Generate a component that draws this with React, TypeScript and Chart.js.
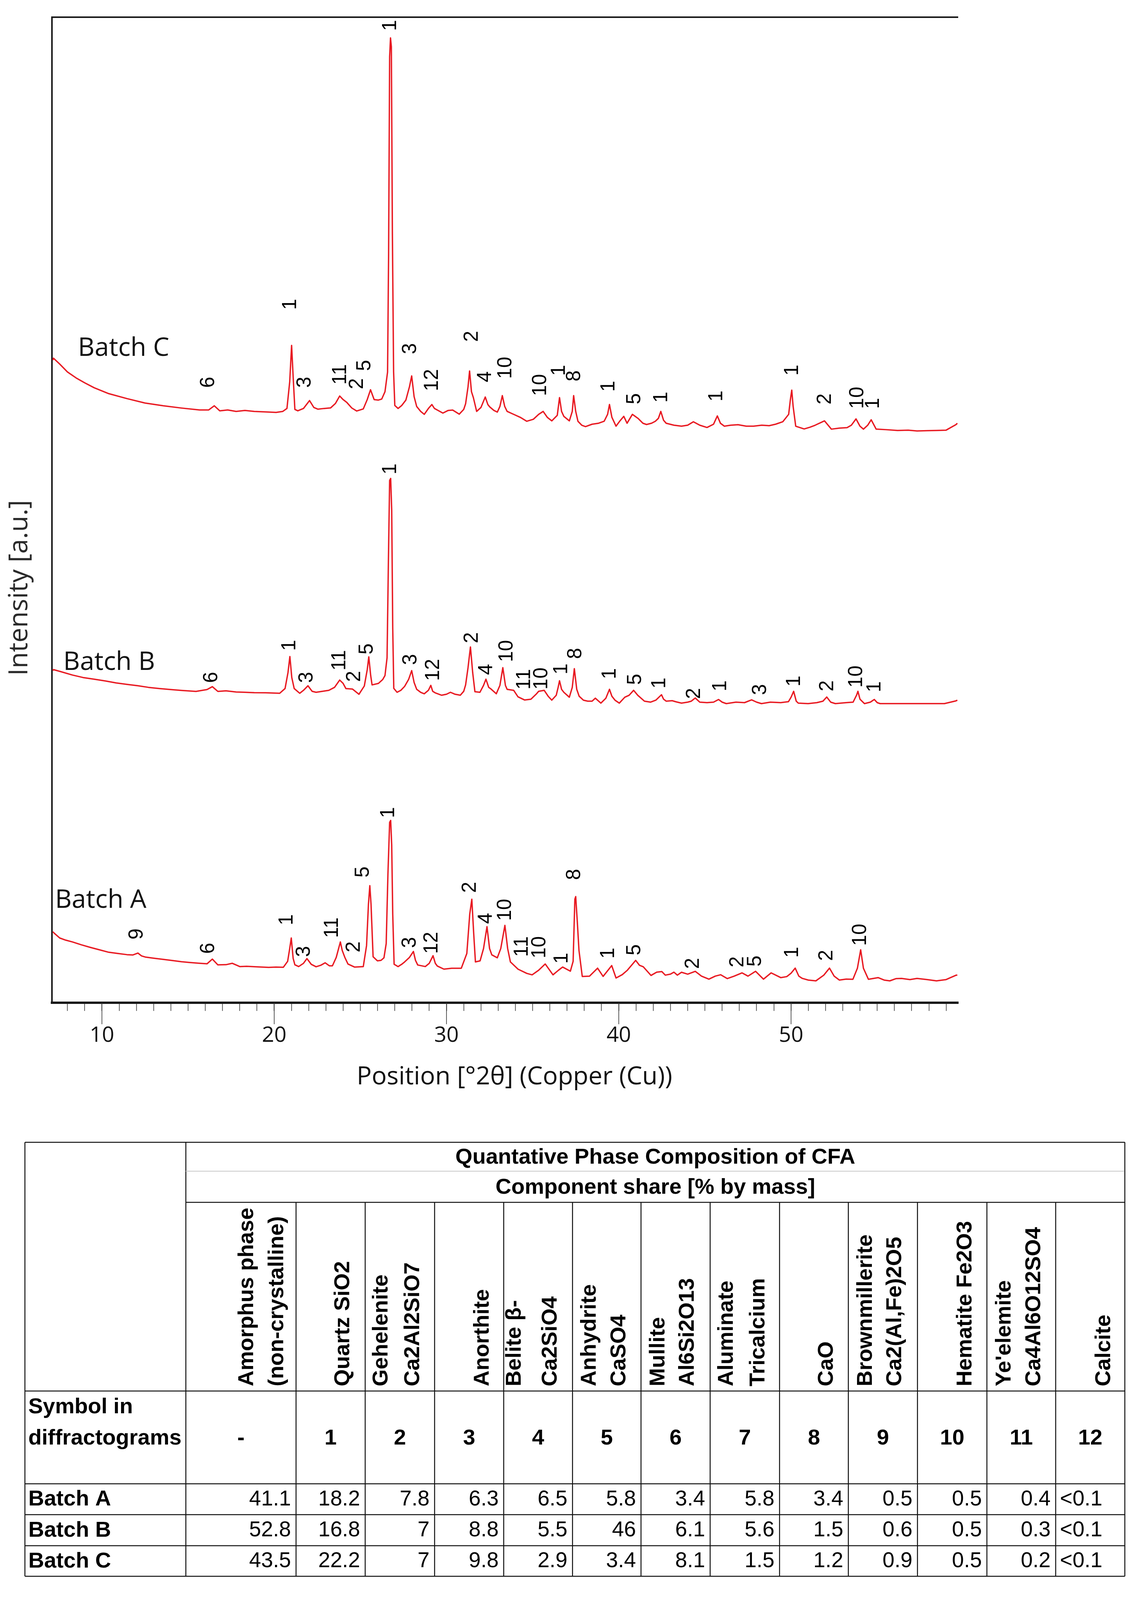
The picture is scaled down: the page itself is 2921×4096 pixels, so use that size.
import React, { useEffect, useRef } from "react";
import { Chart, registerables } from "chart.js";

Chart.register(...registerables);

// ---------------- Diffractogram data: [2θ (°), stacked intensity (a.u.)] ----------------
const batchC: number[][] = [
  [7.15, 652], [7.19, 654], [7.55, 648], [8.0, 640], [8.5, 634], [9.0, 629], [9.55, 624], [10.4, 618],
  [11.45, 613], [12.5, 608.5], [13.56, 605.7], [14.62, 603.4], [15.67, 601.5], [16.2, 601.5], [16.52, 605.7],
  [16.84, 600.6], [17.3, 601.5], [17.79, 600], [18.3, 601], [18.84, 600], [19.5, 599.5], [20.11, 599],
  [20.5, 600], [20.74, 603], [20.9, 630], [21.01, 667], [21.1, 635], [21.2, 602], [21.37, 600.6], [21.7, 603],
  [22.05, 611], [22.3, 604], [22.53, 602.3], [22.9, 603], [23.27, 603.5], [23.55, 608], [23.8, 615.6],
  [24.0, 612], [24.22, 609], [24.5, 603.5], [24.79, 600.4], [25.17, 602.5], [25.4, 612], [25.59, 622],
  [25.8, 612], [26.05, 611.5], [26.24, 612.5], [26.43, 620], [26.58, 640], [26.64, 760], [26.7, 960],
  [26.75, 979], [26.8, 970], [26.86, 780], [26.93, 640], [27.0, 606], [27.19, 603], [27.4, 606], [27.64, 611.4],
  [27.85, 625], [27.98, 636], [28.12, 615], [28.27, 605], [28.5, 600], [28.71, 597], [28.95, 603], [29.15, 607],
  [29.3, 603], [29.47, 601.4], [29.79, 598.3], [30.1, 601], [30.36, 601.4], [30.74, 597.2], [31.0, 602],
  [31.11, 607.8], [31.25, 625], [31.34, 641], [31.45, 620], [31.56, 614], [31.75, 600], [32.0, 604],
  [32.25, 614.6], [32.4, 607], [32.51, 604.6], [32.75, 601], [32.95, 599.3], [33.1, 605], [33.24, 616],
  [33.38, 605], [33.52, 600], [33.9, 597], [34.28, 594], [34.66, 590], [35.04, 592], [35.35, 597], [35.61, 600],
  [35.85, 594], [36.11, 590.4], [36.43, 596], [36.56, 614], [36.68, 600], [36.81, 595], [37.13, 590.4],
  [37.3, 600], [37.38, 616], [37.5, 600], [37.63, 590], [37.85, 586], [38.07, 584.6], [38.45, 587], [38.83, 588],
  [39.15, 590], [39.35, 597], [39.46, 607], [39.6, 594], [39.84, 585], [40.05, 590], [40.29, 595], [40.48, 588],
  [40.79, 597], [41.11, 593], [41.4, 588], [41.61, 586.7], [41.9, 588], [42.12, 590], [42.3, 593], [42.44, 600],
  [42.6, 591], [42.75, 588], [43.2, 586], [43.64, 585], [44.0, 586], [44.33, 589.5], [44.7, 586], [45.12, 583.7],
  [45.5, 587], [45.72, 595.4], [45.9, 588], [46.13, 585], [46.5, 586], [46.92, 586.5], [47.4, 585], [47.82, 585],
  [48.3, 586], [48.73, 585.5], [49.1, 587], [49.52, 589.5], [49.86, 597], [49.96, 612], [50.04, 621.6],
  [50.12, 605], [50.27, 585], [50.76, 582.2], [51.1, 584], [51.4, 586], [51.94, 590.4], [52.34, 582], [52.8, 583],
  [53.25, 583.5], [53.5, 586], [53.77, 592.4], [54.0, 585], [54.2, 582], [54.45, 586], [54.65, 591.5],
  [54.94, 582], [55.5, 581.5], [56.18, 580.7], [56.8, 581], [57.31, 580.2], [57.9, 580.5], [58.44, 580.7],
  [59.0, 581], [59.57, 586.6], [59.65, 588],
];

const batchB: number[][] = [
  [7.15, 337], [7.19, 338], [7.6, 336], [8.29, 332.5], [8.9, 330], [9.55, 328.3], [10.2, 326.5], [10.82, 324.5],
  [11.45, 323], [12.09, 321.6], [12.7, 320], [13.35, 318.8], [14.0, 317.8], [14.62, 316.9], [15.46, 315.9],
  [16.1, 317.8], [16.41, 320.7], [16.73, 315.9], [17.2, 316.5], [17.79, 315.3], [18.3, 315], [18.84, 314.6],
  [19.5, 314.5], [20.32, 314], [20.63, 318.8], [20.8, 335], [20.91, 351.3], [21.02, 330], [21.16, 318.8],
  [21.48, 314], [21.7, 317], [21.96, 321.6], [22.2, 316], [22.43, 315], [22.8, 316], [23.17, 317], [23.5, 320],
  [23.8, 327.4], [24.0, 324], [24.16, 318.8], [24.54, 318.3], [24.92, 313], [25.23, 321.4], [25.4, 338],
  [25.49, 351], [25.6, 332], [25.68, 322.5], [26.05, 324], [26.3, 328], [26.43, 332], [26.55, 350], [26.63, 450],
  [26.7, 530], [26.76, 532], [26.82, 500], [26.88, 380], [26.94, 319], [27.13, 315], [27.35, 317], [27.57, 321],
  [27.8, 328], [27.98, 337], [28.12, 325], [28.27, 318], [28.5, 315], [28.71, 313.5], [28.95, 317], [29.09, 322],
  [29.2, 316], [29.34, 314.5], [29.72, 312], [30.0, 313], [30.23, 315], [30.5, 313], [30.8, 312], [31.0, 316],
  [31.11, 322.5], [31.25, 340], [31.39, 361], [31.52, 335], [31.65, 315.6], [31.94, 315], [32.15, 322],
  [32.29, 328.3], [32.45, 320], [32.57, 318.5], [32.89, 313.5], [33.1, 322], [33.27, 340], [33.42, 322],
  [33.52, 318], [33.9, 317], [34.15, 310.4], [34.53, 307.2], [34.9, 308], [35.2, 313], [35.35, 316], [35.67, 317],
  [35.9, 311], [36.11, 307], [36.37, 312], [36.48, 320], [36.56, 326.7], [36.68, 318], [36.81, 315], [37.13, 310],
  [37.3, 320], [37.42, 339], [37.56, 318], [37.7, 311], [37.95, 307], [38.2, 306], [38.45, 306], [38.64, 309],
  [38.96, 304], [39.25, 309], [39.46, 318], [39.6, 311], [39.78, 307], [40.03, 304], [40.35, 310], [40.6, 312],
  [40.86, 317], [41.1, 312], [41.49, 306], [41.85, 305], [42.15, 307], [42.48, 312.5], [42.6, 308], [42.75, 306],
  [43.1, 306.5], [43.31, 305.4], [43.64, 304], [44.0, 305], [44.21, 306], [44.44, 309.2], [44.7, 305],
  [45.12, 304.5], [45.5, 305], [45.79, 307.7], [46.0, 305], [46.24, 303.5], [46.8, 305], [47.3, 304.5],
  [47.71, 307.3], [48.0, 305], [48.28, 303.5], [48.8, 305], [49.4, 304.5], [49.85, 305.5], [50.0, 310],
  [50.15, 316], [50.3, 306], [50.42, 304], [50.99, 303.5], [51.5, 304.5], [51.85, 306], [52.07, 310.2],
  [52.3, 305], [52.57, 303.5], [53.2, 304.5], [53.6, 305], [53.8, 312], [53.88, 316], [54.0, 308], [54.26, 303.5],
  [54.6, 305], [54.83, 307.7], [55.0, 304.5], [55.17, 303.5], [56.0, 303.5], [57.0, 303.5], [58.0, 303.5],
  [58.9, 303.5], [59.57, 306.3], [59.65, 307],
];

const batchA: number[][] = [
  [7.15, 72], [7.23, 70.6], [7.55, 65.7], [7.9, 63.5], [8.29, 61.7], [8.8, 58.8], [9.34, 56.1], [9.9, 53.5],
  [10.4, 51.2], [10.9, 50], [11.45, 48.8], [11.8, 48.5], [12.09, 50.4], [12.3, 47.5], [12.51, 46.4], [13.0, 45.2],
  [13.56, 44.0], [14.1, 42.8], [14.62, 41.6], [15.1, 40.8], [15.67, 40.0], [16.1, 39.5], [16.41, 44.3],
  [16.73, 38.4], [17.2, 38.6], [17.57, 40.0], [18.0, 36.7], [18.4, 37], [18.84, 36.6], [19.3, 36.2], [19.68, 35.9],
  [20.1, 36.2], [20.53, 36], [20.78, 42], [20.9, 55], [20.99, 65.7], [21.1, 45], [21.2, 38.5], [21.42, 36.7],
  [21.7, 40], [21.9, 44.8], [22.15, 39], [22.43, 36.5], [22.7, 38], [22.96, 40.5], [23.2, 37.5], [23.38, 37.5],
  [23.6, 46], [23.84, 61.7], [23.95, 53], [24.1, 46], [24.28, 39.3], [24.66, 36.2], [25.17, 36.7], [25.36, 58],
  [25.47, 100], [25.55, 118.8], [25.62, 100], [25.74, 46.7], [25.99, 42.5], [26.2, 43], [26.37, 45.6], [26.5, 60],
  [26.6, 130], [26.7, 183], [26.76, 185], [26.82, 160], [26.88, 90], [26.96, 39], [27.19, 36.7], [27.4, 39],
  [27.57, 41.4], [27.85, 46], [28.08, 52], [28.2, 43], [28.33, 38.3], [28.77, 36.7], [29.0, 40], [29.22, 47.7],
  [29.35, 40], [29.47, 37.2], [29.85, 34.1], [30.3, 35], [30.86, 35], [31.18, 50], [31.35, 90], [31.47, 105],
  [31.58, 70], [31.68, 41.4], [31.95, 42.5], [32.15, 55], [32.35, 77.2], [32.5, 55], [32.63, 48.6], [32.95, 45.6],
  [33.15, 55], [33.39, 78.5], [33.55, 55], [33.71, 41.4], [34.15, 34.1], [34.66, 29.8], [34.97, 28.3], [35.35, 33],
  [35.73, 39.3], [36.18, 28.3], [36.5, 33], [36.74, 36.2], [37.19, 32], [37.35, 42], [37.45, 105], [37.5, 107.7],
  [37.6, 80], [37.69, 53], [37.88, 26.7], [38.3, 27], [38.77, 35.1], [39.09, 26.7], [39.59, 37.7], [39.84, 25.1],
  [40.2, 28.5], [40.5, 33], [40.98, 43], [41.2, 38], [41.42, 36.5], [41.87, 27.7], [42.2, 31], [42.5, 31.6],
  [42.7, 28], [43.0, 29], [43.2, 31], [43.4, 28], [43.64, 30.9], [44.0, 29], [44.44, 31.9], [44.8, 27],
  [45.23, 23.9], [45.6, 27], [45.91, 28.4], [46.3, 24.5], [46.7, 27], [47.15, 30.3], [47.5, 27], [47.94, 31.9],
  [48.4, 23.9], [48.84, 30.3], [49.4, 25.5], [49.75, 26.5], [50.0, 30], [50.24, 35.1], [50.45, 27], [50.65, 24.7],
  [51.0, 23], [51.44, 22.2], [51.9, 28], [52.23, 35.1], [52.5, 27], [52.8, 23], [53.2, 24], [53.59, 23.8],
  [53.85, 35], [54.04, 53.7], [54.2, 35], [54.49, 23.8], [55.05, 25.5], [55.4, 23], [55.73, 22.2], [56.1, 24.5],
  [56.41, 24.7], [56.9, 23.5], [57.31, 24.7], [57.9, 23.5], [58.44, 22.2], [59.0, 23.5], [59.57, 27.9], [59.65, 28],
];

// Curve names and their anchor (2θ, intensity) for the label
const curveNames = ["Batch A", "Batch B", "Batch C"];
const curveNameAnchors: number[][] = [[7.28, 96.3], [7.76, 337.7], [8.61, 656.4]];

// Peak symbol labels: [symbol, 2θ, intensity at label start]
const peaksA: [string, number, number][] = [
  ["9", 12.04, 64.1], ["6", 16.2, 49.6], ["1", 20.74, 78.6], ["3", 21.75, 46.4], ["11", 23.38, 65.7],
  ["2", 24.65, 51], ["5", 25.17, 127], ["1", 26.65, 187.4], ["3", 27.88, 55.5], ["12", 29.17, 49.5],
  ["2", 31.38, 111.5], ["4", 32.3, 80], ["10", 33.41, 83], ["11", 34.4, 46.5], ["10", 35.42, 45],
  ["1", 36.72, 39.5], ["8", 37.44, 124.6], ["1", 39.41, 44.7], ["5", 40.93, 48.1], ["2", 44.32, 34.3],
  ["2", 46.92, 35.9], ["5", 47.94, 36.7], ["1", 50.08, 45.6], ["2", 52.07, 42.4], ["10", 54.04, 57.7],
];
const peaksB: [string, number, number][] = [
  ["6", 16.37, 324.5], ["1", 20.91, 357], ["3", 21.9, 324.5], ["11", 23.8, 337], ["2", 24.66, 325.5],
  ["5", 25.4, 353.3], ["1", 26.76, 536], ["3", 27.93, 342.6], ["12", 29.25, 326.5], ["2", 31.5, 364.7],
  ["4", 32.33, 332.5], ["10", 33.52, 345.6], ["11", 34.53, 317.7], ["10", 35.54, 317.7], ["1", 36.68, 333],
  ["8", 37.5, 348.8], ["1", 39.49, 328.3], ["5", 40.98, 322.5], ["1", 42.38, 318.8], ["2", 44.39, 308.2],
  ["1", 45.91, 315.9], ["3", 48.23, 312.1], ["1", 50.2, 320.7], ["2", 52.12, 315.9], ["10", 53.81, 319.7],
  ["1", 54.87, 315],
];
const peaksC: [string, number, number][] = [
  ["6", 16.2, 624], ["1", 20.95, 703], ["3", 21.8, 624], ["11", 23.86, 627], ["2", 24.82, 622.5],
  ["5", 25.27, 641], ["1", 26.76, 986], ["3", 27.92, 658], ["12", 29.19, 620.5], ["2", 31.5, 670.5],
  ["4", 32.27, 629.5], ["10", 33.44, 633], ["10", 35.47, 615.5], ["1", 36.55, 636], ["8", 37.44, 630.4],
  ["1", 39.42, 619.9], ["5", 40.92, 607.2], ["1", 42.48, 608.8], ["1", 45.68, 610], ["1", 50.08, 636.2],
  ["2", 52.0, 607], ["10", 53.88, 602.6], ["1", 54.78, 602.6],
];

const xMin = 7.1;
const xMax = 59.7;
const xTitle = "Position [°2θ] (Copper (Cu))";
const yTitle = "Intensity [a.u.]";

// ---------------- Table data ----------------
const tableTitle = "Quantative Phase Composition of CFA";
const tableSubtitle = "Component share [% by mass]";
const phaseHeaders: string[][] = [
  ["Amorphus phase", "(non-crystalline)"], ["Quartz SiO2"], ["Gehelenite", "Ca2Al2SiO7"], ["Anorthite"],
  ["Belite β-", "Ca2SiO4"], ["Anhydrite", "CaSO4"], ["Mullite", "Al6Si2O13"], ["Aluminate", "Tricalcium"],
  ["CaO"], ["Brownmillerite", "Ca2(Al,Fe)2O5"], ["Hematite Fe2O3"], ["Ye'elemite", "Ca4Al6O12SO4"], ["Calcite"],
];
const symbolRowLabel = ["Symbol in", "diffractograms"];
const phaseSymbols = ["-", "1", "2", "3", "4", "5", "6", "7", "8", "9", "10", "11", "12"];
const tableRowNames = ["Batch A", "Batch B", "Batch C"];
const sharesA = ["41.1", "18.2", "7.8", "6.3", "6.5", "5.8", "3.4", "5.8", "3.4", "0.5", "0.5", "0.4", "<0.1"];
const sharesB = ["52.8", "16.8", "7", "8.8", "5.5", "46", "6.1", "5.6", "1.5", "0.6", "0.5", "0.3", "<0.1"];
const sharesC = ["43.5", "22.2", "7", "9.8", "2.9", "3.4", "8.1", "1.5", "1.2", "0.9", "0.5", "0.2", "<0.1"];

// ---------------- Layout (pixels) ----------------
const W = 2921;
const H = 4096;
const PLOT = { left: 133, top: 44, right: 2453, bottom: 2567 };
const X_SCALE_H = 120;
const colEdges = [63.8, 475.8, 757.9, 934.9, 1112.6, 1289.5, 1465.7, 1641.0, 1818.0, 1995.7, 2171.8, 2348.8, 2526.5, 2702.6, 2879.6];
const rowEdges = [2924.2, 2998.3, 3078.0, 3561.0, 3798.5, 3877.4, 3957.1, 4035.2];
const headerLineX: number[][] = [
  [633, 710], [879], [977, 1057.6], [1236], [1318, 1410], [1510, 1586], [1686, 1761], [1861, 1941.5],
  [2117], [2216.5, 2292], [2472], [2572, 2648], [2827],
];

const RED = "rgb(232, 26, 34)";
const INK = "#111";
const SANS = '"Open Sans", "Noto Sans", sans-serif';
const ARIAL = '"Liberation Sans", Arial, sans-serif';

const isMajor = (v: number) => Math.abs(v - Math.round(v / 10) * 10) < 1e-6;

function drawRot(ctx: CanvasRenderingContext2D, text: string, x: number, y: number, align: CanvasTextAlign, baseline: CanvasTextBaseline) {
  ctx.save();
  ctx.translate(x, y);
  ctx.rotate(-Math.PI / 2);
  ctx.textAlign = align;
  ctx.textBaseline = baseline;
  ctx.fillText(text, 0, 0);
  ctx.restore();
}

function hLine(ctx: CanvasRenderingContext2D, x1: number, x2: number, y: number) {
  ctx.beginPath();
  ctx.moveTo(x1, y);
  ctx.lineTo(x2, y);
  ctx.stroke();
}
function vLine(ctx: CanvasRenderingContext2D, x: number, y1: number, y2: number) {
  ctx.beginPath();
  ctx.moveTo(x, y1);
  ctx.lineTo(x, y2);
  ctx.stroke();
}

const decorPlugin = {
  id: "decor",
  afterDraw(chart: any) {
    const { ctx, chartArea: ca, scales } = chart;
    const xs = scales.x;
    const ys = scales.y;
    ctx.save();

    // top frame line
    ctx.strokeStyle = "#1a1a1a";
    ctx.lineWidth = 4;
    hLine(ctx, ca.left - 2, ca.right, ca.top);

    // long major tick marks
    ctx.strokeStyle = "#333";
    ctx.lineWidth = 1.6;
    for (const t of xs.ticks) {
      if (isMajor(t.value)) {
        const px = xs.getPixelForValue(t.value);
        vLine(ctx, px, ca.bottom, ca.bottom + 55);
      }
    }

    // axis titles
    ctx.fillStyle = INK;
    ctx.font = `64px ${SANS}`;
    ctx.textAlign = "center";
    ctx.textBaseline = "alphabetic";
    ctx.fillText(xTitle, 1317, 2776);
    ctx.fillStyle = "#2a2a2a";
    ctx.font = `68px ${SANS}`;
    drawRot(ctx, yTitle, 70, 1505, "center", "alphabetic");

    // curve names
    ctx.fillStyle = INK;
    ctx.font = `66px ${SANS}`;
    curveNames.forEach((name, i) => {
      const [vx, vy] = curveNameAnchors[i];
      ctx.textAlign = "left";
      ctx.textBaseline = "alphabetic";
      ctx.fillText(name, xs.getPixelForValue(vx), ys.getPixelForValue(vy));
    });

    // peak symbols
    ctx.fillStyle = "#000";
    ctx.font = `51px ${ARIAL}`;
    for (const list of [peaksA, peaksB, peaksC]) {
      for (const [s, vx, vy] of list) {
        drawRot(ctx, s, xs.getPixelForValue(vx), ys.getPixelForValue(vy), "left", "middle");
      }
    }

    // ---------------- table ----------------
    const L = colEdges[0];
    const C1 = colEdges[1];
    const R = colEdges[colEdges.length - 1];
    ctx.strokeStyle = "#111";
    ctx.lineWidth = 2.5;
    hLine(ctx, L, R, rowEdges[0]);
    hLine(ctx, C1, R, rowEdges[2]);
    for (let r = 3; r < rowEdges.length; r++) hLine(ctx, L, R, rowEdges[r]);
    vLine(ctx, L, rowEdges[0], rowEdges[7]);
    vLine(ctx, C1, rowEdges[0], rowEdges[7]);
    vLine(ctx, R, rowEdges[0], rowEdges[7]);
    for (let c = 2; c < colEdges.length - 1; c++) vLine(ctx, colEdges[c], rowEdges[2], rowEdges[7]);
    ctx.strokeStyle = "#c8c8c8";
    ctx.lineWidth = 2;
    hLine(ctx, C1, R - 1.5, rowEdges[1]);

    ctx.fillStyle = "#000";
    ctx.font = `bold 56px ${ARIAL}`;
    ctx.textAlign = "center";
    ctx.textBaseline = "middle";
    ctx.fillText(tableTitle, (C1 + R) / 2, (rowEdges[0] + rowEdges[1]) / 2 + 2);
    ctx.fillText(tableSubtitle, (C1 + R) / 2, (rowEdges[1] + rowEdges[2]) / 2 + 2);

    // rotated phase headers
    phaseHeaders.forEach((lines, j) => {
      lines.forEach((ln, k) => {
        drawRot(ctx, ln, headerLineX[j][k], rowEdges[3] - 12, "left", "middle");
      });
    });

    // symbol row
    ctx.textAlign = "left";
    ctx.textBaseline = "middle";
    ctx.fillText(symbolRowLabel[0], 72.5, 3602.5);
    ctx.fillText(symbolRowLabel[1], 72.5, 3683);
    ctx.textAlign = "center";
    phaseSymbols.forEach((s, j) => {
      ctx.fillText(s, (colEdges[j + 1] + colEdges[j + 2]) / 2, 3683);
    });

    // data rows
    [sharesA, sharesB, sharesC].forEach((vals, i) => {
      const cy = (rowEdges[4 + i] + rowEdges[5 + i]) / 2 + 1;
      ctx.font = `bold 56px ${ARIAL}`;
      ctx.textAlign = "left";
      ctx.fillText(tableRowNames[i], 72.5, cy);
      ctx.font = `55px ${ARIAL}`;
      vals.forEach((v, j) => {
        const left = colEdges[j + 1];
        const right = colEdges[j + 2];
        if (v.startsWith("<")) {
          ctx.textAlign = "left";
          ctx.fillText(v, left + 11, cy);
        } else {
          ctx.textAlign = "right";
          ctx.fillText(v, right - 13, cy);
        }
      });
    });

    ctx.restore();
  },
};

export default function App() {
  const canvasRef = useRef<HTMLCanvasElement | null>(null);

  useEffect(() => {
    const canvas = canvasRef.current;
    if (!canvas) return;
    const toXY = (arr: number[][]) => arr.map(([x, y]) => ({ x, y }));
    const ds = (data: number[][]) => ({
      data: toXY(data),
      borderColor: RED,
      borderWidth: 3.5,
      pointRadius: 0,
      tension: 0,
      fill: false,
      borderJoinStyle: "round" as const,
    });

    const chart = new Chart(canvas, {
      type: "line",
      data: { datasets: [ds(batchA), ds(batchB), ds(batchC)] },
      options: {
        responsive: false,
        devicePixelRatio: 1,
        animation: false,
        events: [],
        layout: {
          padding: {
            left: PLOT.left,
            top: PLOT.top,
            right: W - PLOT.right,
            bottom: H - PLOT.bottom - X_SCALE_H,
          },
        },
        plugins: { legend: { display: false }, tooltip: { enabled: false }, title: { display: false } },
        scales: {
          x: {
            type: "linear",
            min: xMin,
            max: xMax,
            afterFit: (s: any) => {
              s.height = X_SCALE_H;
            },
            ticks: {
              stepSize: 1,
              includeBounds: false,
              autoSkip: false,
              maxTicksLimit: 200,
              maxRotation: 0,
              minRotation: 0,
              padding: 30,
              color: INK,
              font: { family: SANS, size: 55 },
              callback: (v: any) => (isMajor(Number(v)) ? String(Math.round(Number(v))) : ""),
            },
            grid: {
              display: true,
              drawOnChartArea: false,
              drawTicks: true,
              tickLength: 21,
              tickWidth: 1.6,
              tickColor: "#333",
              color: "#333",
            },
            border: { display: true, width: 6, color: "#1a1a1a" },
          },
          y: {
            type: "linear",
            min: 0,
            max: 1000,
            afterFit: (s: any) => {
              s.width = 0;
            },
            ticks: { display: false },
            grid: { display: false, drawTicks: false },
            border: { display: true, width: 4, color: "#1a1a1a" },
          },
        },
      },
      plugins: [decorPlugin],
    } as any);

    return () => chart.destroy();
  }, []);

  return (
    <div style={{ position: "absolute", left: 0, top: 0, width: W, height: H, background: "#fff" }}>
      <canvas ref={canvasRef} width={W} height={H} style={{ width: W, height: H, display: "block" }} />
    </div>
  );
}
